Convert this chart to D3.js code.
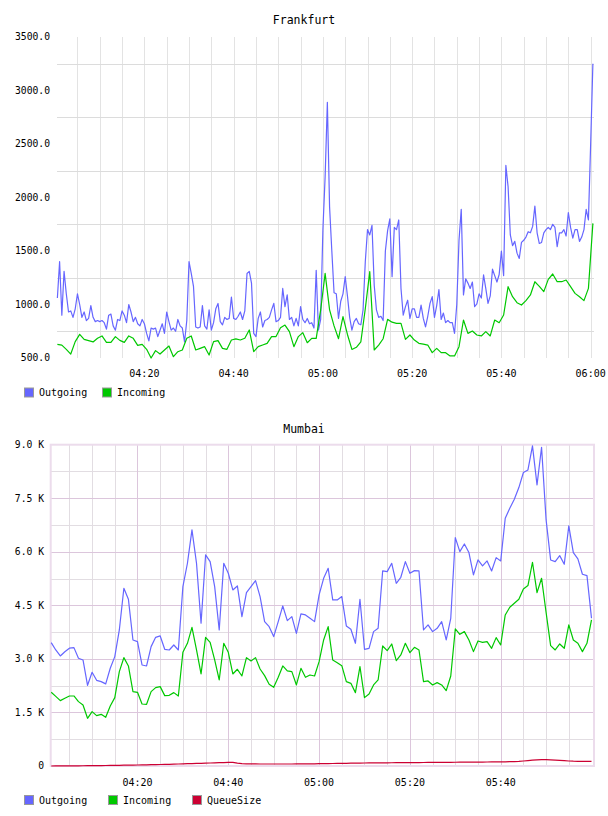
<!DOCTYPE html>
<html>
<head>
<meta charset="utf-8">
<script src="https://cdn.jsdelivr.net/npm/d3@7"></script>
<style>
  body { margin: 0; background: #fff; }
  svg text { font-family: "DejaVu Sans Mono", monospace; fill: #000; }
</style>
</head>
<body>
<svg id="chart" width="608" height="816"></svg>
<script>
// ---- data ----
const day = (h, m, s = 0) => new Date(2020, 0, 1, h, m, s)

// Frankfurt: outgoing every 30 s from 04:00:30, incoming every minute from 04:00:30
const frankfurtOutgoing = [
  1060, 1400, 900, 1310, 1100, 930, 940, 880, 960, 1100,
  1000, 880, 930, 850, 870, 990, 880, 840, 850, 840,
  850, 830, 770, 900, 910, 800, 760, 860, 850, 940,
  900, 830, 1000, 930, 840, 880, 820, 800, 860, 820,
  730, 660, 780, 770, 780, 700, 760, 820, 730, 930,
  840, 760, 780, 750, 860, 800, 780, 650, 850, 1400,
  1290, 1170, 790, 780, 790, 990, 800, 770, 950, 760,
  830, 960, 1010, 840, 810, 880, 860, 870, 1070, 870,
  860, 890, 930, 860, 940, 1290, 1310, 1200, 730, 700,
  870, 930, 790, 850, 860, 880, 950, 1010, 840, 850,
  880, 1150, 980, 1090, 860, 880, 800, 870, 800, 980,
  860, 830, 870, 820, 830, 780, 1320, 760, 860, 1700,
  2195, 2890, 1910, 1500, 1110, 1100, 870, 1030, 1100, 1260,
  1080, 880, 760, 840, 870, 820, 810, 950, 1400, 1700,
  1650, 1740, 1180, 950, 880, 890, 850, 1500, 1690, 1800,
  1260, 1720, 1700, 1790, 1150, 900, 980, 1040, 870, 960,
  960, 880, 880, 995, 870, 790, 890, 1010, 1073, 880,
  990, 1140, 860, 920, 830, 850, 830, 830, 730, 1000,
  1600, 1890, 1090, 1240, 1200, 1150, 1210, 980, 1005, 1100,
  1060, 1276, 1150, 1010, 1080, 1330, 1270, 1210, 1280, 1500,
  1270, 2300, 2100, 1650, 1550, 1590, 1480, 1430, 1580, 1600,
  1630, 1680, 1670, 1730, 1920, 1670, 1570, 1580, 1670, 1700,
  1720, 1700, 1750, 1720, 1540, 1670, 1670, 1700, 1640, 1860,
  1720, 1620, 1700, 1700, 1590, 1630, 1700, 1890, 1790, 2500,
  3250
]
const frankfurtIncoming = [
  628, 620, 581, 537, 653, 721, 674, 662, 650, 684,
  706, 646, 646, 700, 665, 646, 706, 684, 618, 628,
  581, 500, 569, 537, 575, 612, 512, 559, 575, 684,
  706, 575, 590, 606, 528, 653, 662, 590, 581, 668,
  678, 668, 684, 762, 559, 606, 621, 637, 700, 700,
  783, 808, 746, 606, 700, 737, 643, 684, 684, 949,
  1291, 950, 800, 680, 886, 720, 580, 600, 650, 960,
  1307, 575, 620, 680, 861, 835, 824, 824, 674, 715,
  668, 637, 630, 621, 550, 590, 550, 550, 519, 519,
  606, 855, 730, 752, 715, 706, 746, 706, 855, 830,
  902, 1167, 1073, 1017, 995, 1036, 1089, 1213, 1170, 1120,
  1235, 1285, 1213, 1213, 1229, 1167, 1104, 1073, 1036, 1151,
  1758
]
const frankfurtYTicks = [500, 1000, 1500, 2000, 2500, 3000, 3500]
const frankfurtYGrid = [750, 1250, 1750, 2250, 2750, 3250]
const frankfurtTimeLabels = ["04:20", "04:40", "05:00", "05:20", "05:40", "06:00"]

// Mumbai: every minute from 04:01
const mumbaiOutgoing = [
  3456, 3250, 3082, 3200, 3300, 3316, 3017, 2970, 2260, 2625,
  2400, 2363, 2300, 2737, 3064, 3811, 4978, 4670, 3530, 3484,
  2830, 2802, 3344, 3605, 3643, 3269, 3250, 3390, 3250, 5025,
  5679, 6613, 5679, 4000, 5912, 5725, 5025, 3811, 5679, 5399,
  4931, 5044, 4184, 4857, 5025, 5193, 4745, 4044, 3904, 3624,
  4044, 4483, 4072, 4184, 3717, 4259, 4231, 4138, 4044, 4791,
  5258, 5539, 4651, 4651, 4745, 3923, 3829, 3437, 4670, 3269,
  3297, 3764, 3857, 5464, 5445, 5679, 5118, 5286, 5725, 5399,
  5473, 5464, 3811, 3951, 3764, 3857, 4044, 3530, 4138, 6398,
  6006, 6220, 5978, 5352, 5772, 5604, 5744, 5464, 5837, 5744,
  6940, 7220, 7472, 7799, 8220, 8294, 8966, 7874, 8929, 6893,
  5772, 5725, 5893, 5651, 6725, 5978, 5800, 5371, 5333, 4138
]
const mumbaiIncoming = [
  2064, 1950, 1831, 1900, 1961, 1961, 1803, 1709, 1336, 1522,
  1410, 1448, 1364, 1681, 1915, 2643, 3036, 2802, 2083, 2064,
  1737, 1728, 2083, 2195, 2223, 1971, 1980, 2055, 1961, 3185,
  3437, 3885, 3250, 2578, 3605, 3465, 2970, 2410, 3437, 3185,
  2578, 2709, 2522, 3036, 2942, 3036, 2718, 2531, 2288, 2204,
  2484, 2802, 2662, 2643, 2270, 2737, 2484, 2550, 2522, 2923,
  3530, 3904, 2970, 2895, 2811, 2363, 2316, 2055, 2783, 1915,
  2017, 2270, 2410, 3362, 3232, 3418, 2951, 3110, 3437, 3176,
  3325, 3250, 2363, 2382, 2270, 2335, 2270, 2111, 2522, 3839,
  3689, 3764, 3530, 3204, 3502, 3465, 3484, 3297, 3596, 3390,
  4231, 4446, 4558, 4670, 4960, 5053, 5707, 4857, 5258, 4300,
  3372, 3250, 3418, 3297, 3951, 3530, 3437, 3204, 3437, 4091
]
const mumbaiQueue = [
  0, 1, 2, 3, 4, 5, 6, 7, 8, 9,
  10, 12, 14, 16, 18, 20, 22, 24, 26, 28,
  30, 33, 36, 39, 42, 45, 48, 52, 56, 60,
  64, 68, 72, 76, 80, 84, 88, 92, 96, 100,
  103, 80, 65, 60, 58, 57, 56, 56, 56, 56,
  56, 56, 56, 56, 57, 57, 58, 60, 62, 64,
  66, 68, 70, 72, 74, 76, 78, 80, 82, 84,
  85, 86, 88, 89, 90, 91, 92, 93, 94, 95,
  96, 97, 98, 99, 100, 101, 102, 103, 104, 105,
  106, 107, 108, 109, 110, 111, 112, 113, 114, 116,
  118, 120, 124, 130, 140, 152, 165, 172, 176, 177,
  172, 166, 160, 150, 140, 134, 132, 131, 131, 131
]
const mumbaiYTicks = [0, 1500, 3000, 4500, 6000, 7500, 9000]
const mumbaiYMinor = [750, 2250, 3750, 5250, 6750, 8250]
const mumbaiTimeLabels = ["04:20", "04:40", "05:00", "05:20", "05:40"]

const colors = { Outgoing: "#6666ff", Incoming: "#00c800", QueueSize: "#cc0033" }

// ---- helpers ----
function toSeries(values, start, stepSec) {
  return values.map((v, i) => ({ date: d3.timeSecond.offset(start, i * stepSec), value: v }))
}

const parseHM = d3.timeParse("%H:%M")
function labelDate(s) {
  let p = parseHM(s)
  return day(p.getHours(), p.getMinutes())
}

function drawLine(g, data, x, y, color) {
  g.append("path")
    .datum(data)
    .attr("fill", "none")
    .attr("stroke", color)
    .attr("stroke-width", 1.2)
    .attr("stroke-linejoin", "round")
    .attr("d", d3.line()
      .x(d => x(d.date))
      .y(d => y(d.value)))
}

function drawLegend(svg, names, xs, yc) {
  names.forEach((n, i) => {
    svg.append("rect")
      .attr("x", xs[i] + 0.5).attr("y", yc - 4.5)
      .attr("width", 9).attr("height", 9)
      .attr("fill", colors[n])
      .attr("stroke", "#999")
    svg.append("text")
      .attr("x", xs[i] + 15).attr("y", yc)
      .attr("dy", "0.35em")
      .style("font-size", "10px")
      .text(n)
  })
}

const svg = d3.select("#chart")

// ---- Frankfurt ----
{
  const x = d3.scaleTime().domain([day(4, 0, 25), day(6, 0, 45)]).range([57, 594])
  const y = d3.scaleLinear().domain([500, 3500]).range([358, 37])
  const g = svg.append("g")

  svg.append("text")
    .attr("x", 304).attr("y", 20).attr("dy", "0.35em")
    .attr("text-anchor", "middle")
    .style("font-size", "11.5px")
    .text("Frankfurt")

  const minorTimes = d3.timeMinute.every(5).range(day(4, 5), day(6, 0, 1))
  g.selectAll(".vgrid").data(minorTimes).enter().append("line")
    .attr("x1", d => Math.round(x(d)) + 0.5).attr("x2", d => Math.round(x(d)) + 0.5)
    .attr("y1", 37).attr("y2", 358)
    .attr("stroke", "#e3e3e3")
  g.selectAll(".hgrid").data(frankfurtYGrid).enter().append("line")
    .attr("x1", 57).attr("x2", 594)
    .attr("y1", d => Math.round(y(d)) + 0.5).attr("y2", d => Math.round(y(d)) + 0.5)
    .attr("stroke", "#dcdcdc")

  svg.selectAll(".fy").data(frankfurtYTicks).enter().append("text")
    .attr("x", 50).attr("y", d => y(d)).attr("dy", "0.35em")
    .attr("text-anchor", "end")
    .style("font-size", "9.7px")
    .text(d => d3.format(".1f")(d))

  svg.selectAll(".fx").data(frankfurtTimeLabels).enter().append("text")
    .attr("x", d => x(labelDate(d))).attr("y", 373).attr("dy", "0.35em")
    .attr("text-anchor", "middle")
    .style("font-size", "10px")
    .text(d => d)

  drawLine(g, toSeries(frankfurtOutgoing, day(4, 0, 30), 30), x, y, colors.Outgoing)
  drawLine(g, toSeries(frankfurtIncoming, day(4, 0, 30), 60), x, y, colors.Incoming)

  drawLegend(svg, ["Outgoing", "Incoming"], [24, 102], 392.5)
}

// ---- Mumbai ----
{
  const x = d3.scaleTime().domain([day(4, 0, 53), day(6, 0, 33)]).range([50.7, 594])
  const y = d3.scaleLinear().domain([0, 9000]).range([766, 444.7])
  const g = svg.append("g")

  svg.append("text")
    .attr("x", 304).attr("y", 428.5).attr("dy", "0.35em")
    .attr("text-anchor", "middle")
    .style("font-size", "11.5px")
    .text("Mumbai")

  const minorTimes = d3.timeMinute.every(5).range(day(4, 5), day(6, 0, 1))
    .filter(d => d.getMinutes() % 20 != 0)
  const majorTimes = mumbaiTimeLabels.map(labelDate)

  g.selectAll(".vminor").data(minorTimes).enter().append("line")
    .attr("x1", d => Math.round(x(d)) + 0.5).attr("x2", d => Math.round(x(d)) + 0.5)
    .attr("y1", 445).attr("y2", 766)
    .attr("stroke", "#e2dde2")
  g.selectAll(".hminor").data(mumbaiYMinor).enter().append("line")
    .attr("x1", 51).attr("x2", 594)
    .attr("y1", d => Math.round(y(d)) + 0.5).attr("y2", d => Math.round(y(d)) + 0.5)
    .attr("stroke", "#e2dde2")
  g.selectAll(".vmajor").data(majorTimes).enter().append("line")
    .attr("x1", d => Math.round(x(d)) + 0.5).attr("x2", d => Math.round(x(d)) + 0.5)
    .attr("y1", 445).attr("y2", 766)
    .attr("stroke", "#dcc6dc")
  g.selectAll(".hmajor").data(mumbaiYTicks.slice(1, -1)).enter().append("line")
    .attr("x1", 51).attr("x2", 594)
    .attr("y1", d => Math.round(y(d)) + 0.5).attr("y2", d => Math.round(y(d)) + 0.5)
    .attr("stroke", "#dcc6dc")
  g.append("rect")
    .attr("x", 50.7).attr("y", 444.7)
    .attr("width", 543.3).attr("height", 321.3)
    .attr("fill", "none")
    .attr("stroke", "#ecdcec")
    .attr("stroke-width", 2)

  svg.selectAll(".my").data(mumbaiYTicks).enter().append("text")
    .attr("x", 44).attr("y", d => y(d)).attr("dy", "0.35em")
    .attr("text-anchor", "end")
    .style("font-size", "9.7px")
    .text(d => d == 0 ? "0" : (d / 1000).toFixed(1) + " K")

  svg.selectAll(".mx").data(mumbaiTimeLabels).enter().append("text")
    .attr("x", d => x(labelDate(d))).attr("y", 782).attr("dy", "0.35em")
    .attr("text-anchor", "middle")
    .style("font-size", "10px")
    .text(d => d)

  drawLine(g, toSeries(mumbaiOutgoing, day(4, 1), 60), x, y, colors.Outgoing)
  drawLine(g, toSeries(mumbaiIncoming, day(4, 1), 60), x, y, colors.Incoming)
  drawLine(g, toSeries(mumbaiQueue, day(4, 1), 60), x, y, colors.QueueSize)

  drawLegend(svg, ["Outgoing", "Incoming", "QueueSize"], [24, 108, 192], 800)
}
</script>
</body>
</html>
